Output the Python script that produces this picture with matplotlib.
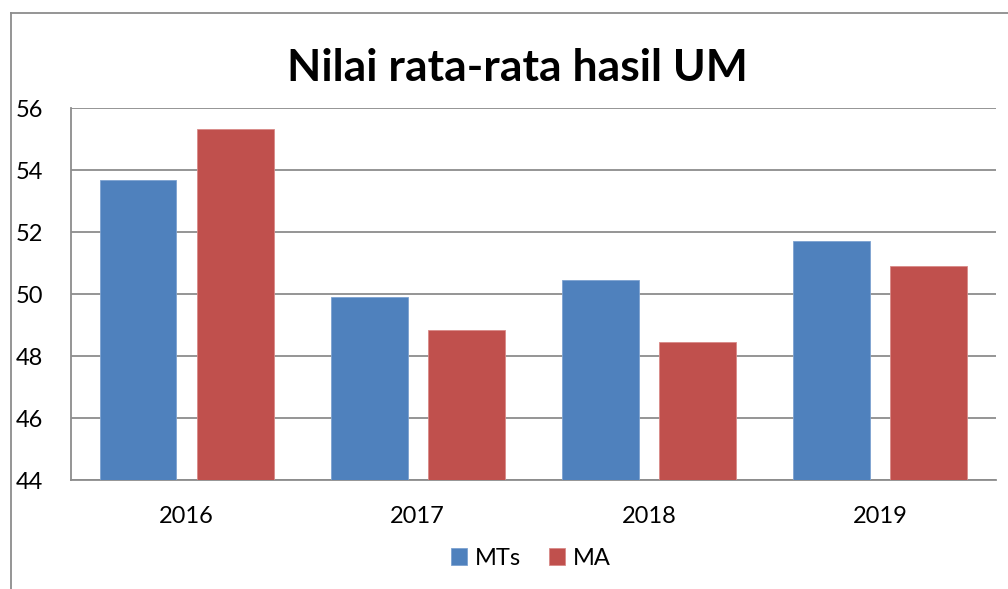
import matplotlib
matplotlib.use("Agg")
import matplotlib.pyplot as plt
from matplotlib.lines import Line2D
import numpy as np

# data
years = ["2016", "2017", "2018", "2019"]
mts = [53.68, 49.9, 50.47, 51.73]
ma = [55.35, 48.85, 48.47, 50.92]
y_ticks = [44, 46, 48, 50, 52, 54, 56]

plt.rcParams['font.family'] = ['Lato', 'DejaVu Sans']

fig = plt.figure(figsize=(10.08, 5.89), dpi=100)
ax = fig.add_axes([0.0704, 0.185, 0.9174, 0.6308])

x = np.arange(len(years))
w = 0.333
off = 0.21
ax.bar(x - off, mts, w, bottom=0, color="#4F81BD", edgecolor="#7DA2D0", linewidth=0.6, label="MTs", zorder=3)
ax.bar(x + off, ma, w, bottom=0, color="#C0504D", edgecolor="#D88A88", linewidth=0.6, label="MA", zorder=3)

ax.set_xlim(-0.5, len(years) - 0.5)
ax.set_ylim(44, 56)
ax.set_yticks(y_ticks)
ax.set_xticks(x)
ax.set_xticklabels(years)
ax.tick_params(axis='both', length=0, labelsize=17)
ax.tick_params(axis='y', pad=20)
ax.tick_params(axis='x', pad=19)

ax.grid(axis='y', color="#8C8C8C", linewidth=1.3, zorder=0)
for s in ['top', 'right']:
    ax.spines[s].set_visible(False)
ax.spines['left'].set_color("#8C8C8C")
ax.spines['bottom'].set_color("#8C8C8C")
ax.spines['left'].set_linewidth(1.3)
ax.spines['bottom'].set_linewidth(1.3)

fig.text(0.513, 0.885, "Nilai rata-rata hasil UM", ha='center', va='center',
         fontsize=32, fontweight='bold')

ax.legend(loc='upper center', bbox_to_anchor=(0.497, -0.125), ncol=2, frameon=False,
          fontsize=17, handlelength=0.7, handleheight=0.7, handletextpad=0.3,
          columnspacing=1.2)

# chart border
fig.add_artist(Line2D([11 / 1008, 11 / 1008], [0, 1 - 13 / 589], color="#8C8C8C", linewidth=1.3))
fig.add_artist(Line2D([11 / 1008, 1], [1 - 13 / 589, 1 - 13 / 589], color="#8C8C8C", linewidth=1.3))

fig.savefig("out.png", dpi=100)
